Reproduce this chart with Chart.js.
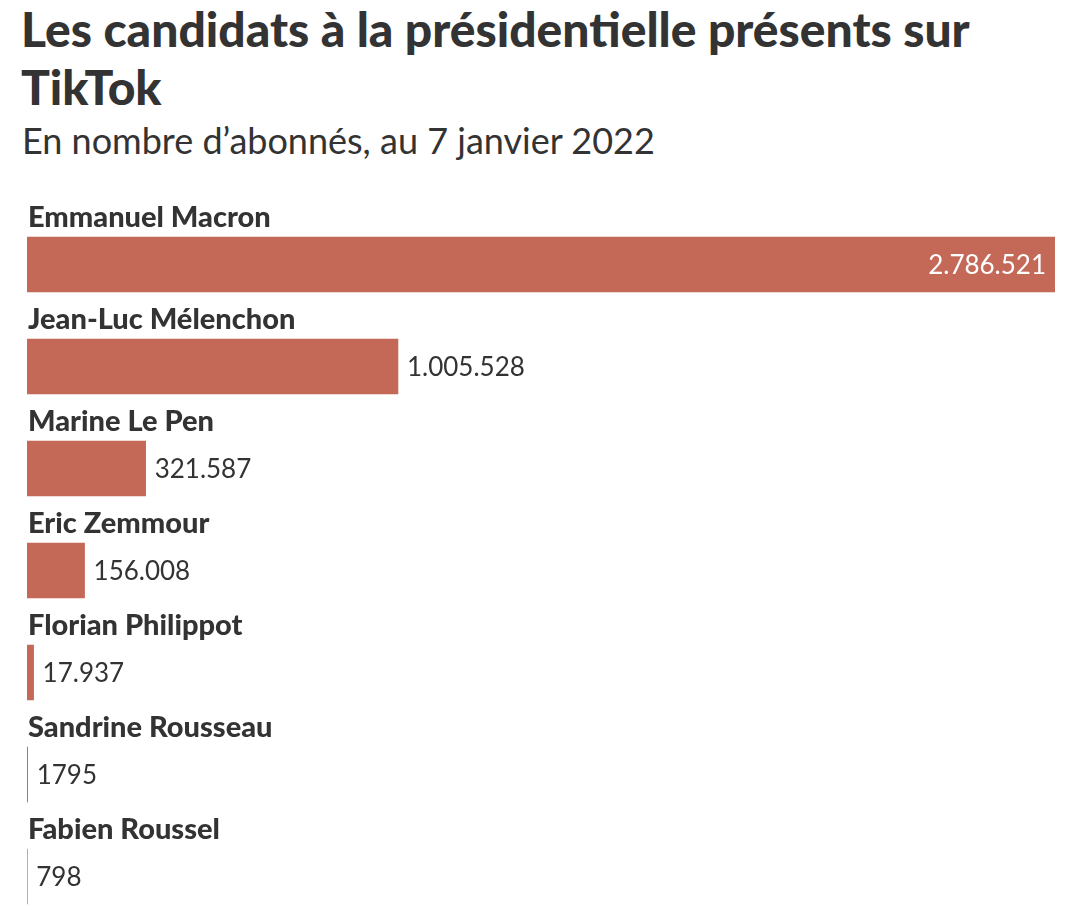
<!DOCTYPE html>
<html>
<head>
<meta charset="utf-8">
<script src="https://cdn.jsdelivr.net/npm/chart.js@4"></script>
<style>
  html, body { margin: 0; padding: 0; background: #fff; overflow: hidden; }
  body { width: 1080px; height: 917px; position: relative; font-family: "Lato", sans-serif; color: #333; }
  h1 { position: absolute; left: 21px; top: 0px; margin: 0; width: 1040px; font-size: 48px; line-height: 58px; font-weight: 900; }
  h2 { position: absolute; left: 22px; top: 118px; margin: 0; font-size: 36px; line-height: 44px; font-weight: 400; }
  #wrap { position: absolute; left: 0; top: 180px; width: 1080px; height: 750px; }
</style>
</head>
<body>
<h1>Les candidats à la présidentielle présents sur TikTok</h1>
<h2>En nombre d’abonnés, au 7 janvier 2022</h2>
<div id="wrap"><canvas id="chart"></canvas></div>
<script>
const CANDIDATES = ["Emmanuel Macron", "Jean-Luc Mélenchon", "Marine Le Pen", "Eric Zemmour", "Florian Philippot", "Sandrine Rousseau", "Fabien Roussel"];
const FOLLOWERS  = [2786521, 1005528, 321587, 156008, 17937, 1795, 798];

const BAR_COLOR  = "#c46958";
const TEXT_COLOR = "#333333";

// 2.786.521 style, but no dot under 10.000 (like the original)
const formatNumber = n => {
    if (n < 10000) return String(n);
    return String(n).replace(/\B(?=(\d{3})+(?!\d))/g, ".");
}

const labelPlugin = {
    id: "barLabels",
    afterDatasetsDraw(chart) {
        const ctx = chart.ctx;
        const meta = chart.getDatasetMeta(0);
        const { left, right } = chart.chartArea;

        ctx.save();
        meta.data.forEach((bar, i) => {
            const top = bar.y - bar.height / 2;

            // candidate name above the bar
            ctx.font = "900 29px Lato";
            ctx.fillStyle = TEXT_COLOR;
            ctx.textAlign = "left";
            ctx.textBaseline = "middle";
            ctx.fillText(CANDIDATES[i], left + 1, top - 19);

            // value goes inside the bar only when it can't fit after it
            const text = formatNumber(FOLLOWERS[i]);
            ctx.font = "26px Lato";
            const w = ctx.measureText(text).width;
            if (bar.x + w + 9 > right + 20) {
                ctx.fillStyle = "#ffffff";
                ctx.textAlign = "right";
                ctx.fillText(text, bar.x - 9, bar.y + 1);
            } else {
                ctx.fillStyle = TEXT_COLOR;
                ctx.textAlign = "left";
                ctx.fillText(text, Math.max(bar.x, left) + 9, bar.y + 1);
            }
        });
        ctx.restore();
    }
};

new Chart(document.getElementById("chart"), {
    type: "bar",
    data: {
        labels: CANDIDATES,
        datasets: [{
            data: FOLLOWERS,
            backgroundColor: BAR_COLOR,
            borderWidth: 0,
            barThickness: 55
        }]
    },
    options: {
        indexAxis: "y",
        responsive: true,
        maintainAspectRatio: false,
        animation: false,
        layout: { padding: { left: 27, right: 25, top: 33.5, bottom: 2.5 } },
        plugins: { legend: { display: false }, tooltip: { enabled: false } },
        scales: {
            x: { display: false, min: 0, max: 2786521 },
            y: { display: false }
        }
    },
    plugins: [labelPlugin]
});
</script>
</body>
</html>
